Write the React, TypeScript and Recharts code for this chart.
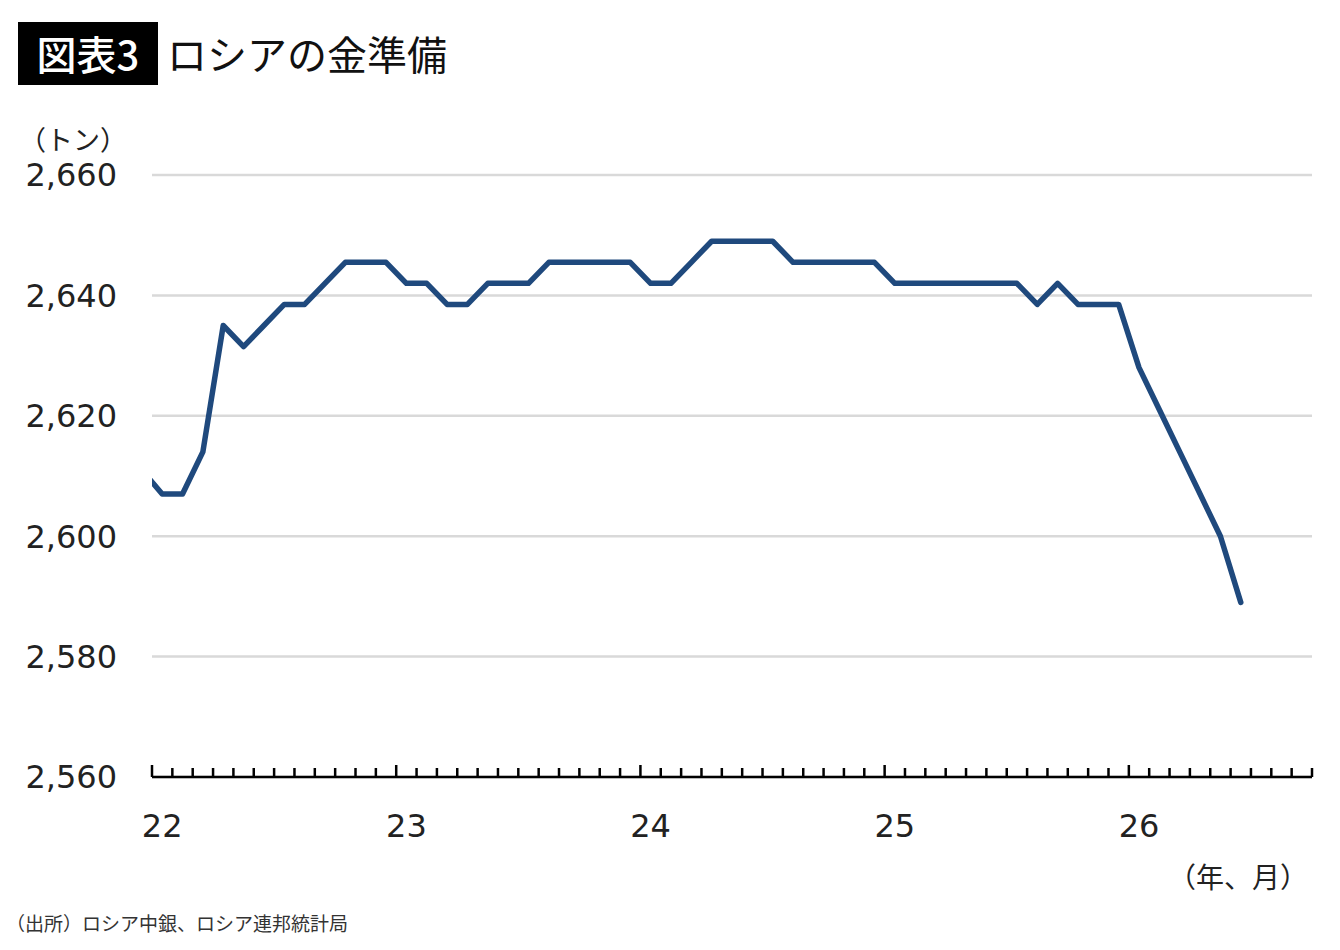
import React from 'react';
import { LineChart, Line, XAxis, YAxis, CartesianGrid } from 'recharts';

// Monthly gold reserves in tonnes, starting one month before the first year label
const reserves = [
  2611, 2607, 2607, 2614, 2635, 2631.5, 2635, 2638.5, 2638.5, 2642, 2645.5, 2645.5, 2645.5,
  2642, 2642, 2638.5, 2638.5, 2642, 2642, 2642, 2645.5, 2645.5, 2645.5, 2645.5, 2645.5,
  2642, 2642, 2645.5, 2649, 2649, 2649, 2649, 2645.5, 2645.5, 2645.5, 2645.5, 2645.5,
  2642, 2642, 2642, 2642, 2642, 2642, 2642, 2638.5, 2642, 2638.5, 2638.5, 2638.5,
  2628, 2621, 2614, 2607, 2600, 2589,
];

const yearLabels = ['22', '23', '24', '25', '26'];
const yTicks = [2560, 2580, 2600, 2620, 2640, 2660];
const monthCount = 57; // months shown on the axis

// each month sits in the middle of its tick interval
const data = reserves.map((v, i) => ({ t: i - 0.5, value: v }));

const monthTicks = Array.from({ length: monthCount + 1 }, (_, i) => i);
const labelTicks = yearLabels.map((_, i) => i * 12 + 0.5);
const xTicks = [...monthTicks, ...labelTicks].sort((a, b) => a - b);

const NUM_FONT = '"DejaVu Sans", "Noto Sans CJK JP", sans-serif';
const JP_FONT = '"Noto Sans CJK JP", sans-serif';

const XTick = (props: any) => {
  const { x, y, payload } = props;
  const v = payload.value as number;
  if (Number.isInteger(v)) {
    const len = v % 12 === 0 ? 12 : 9;
    return <line x1={x} x2={x} y1={y} y2={y - len} stroke="#000" strokeWidth={2.5} />;
  }
  const label = yearLabels[Math.floor(v / 12)];
  return (
    <text x={x} y={y + 49} textAnchor="middle" dominantBaseline="central" fontSize={32} fill="#222" fontFamily={NUM_FONT}>
      {label}
    </text>
  );
};

const App: React.FC = () => {
  return (
    <div style={{ position: 'absolute', left: 0, top: 0, width: 1340, height: 950, background: '#fff' }}>
      {/* title */}
      <div
        style={{
          position: 'absolute', left: 18, top: 22, width: 140, height: 63, background: '#000', color: '#fff',
          fontFamily: JP_FONT, fontSize: 40, lineHeight: '63px', textAlign: 'center', fontWeight: 500,
        }}
      >
        図表3
      </div>
      <div
        style={{
          position: 'absolute', left: 167, top: 22, height: 63, color: '#111',
          fontFamily: JP_FONT, fontSize: 40, lineHeight: '63px', fontWeight: 400,
        }}
      >
        ロシアの金準備
      </div>

      <LineChart
        width={1340}
        height={950}
        data={data}
        margin={{ top: 175, right: 28, bottom: 113, left: 0 }}
        style={{ position: 'absolute', left: 0, top: 0 }}
      >
        <CartesianGrid vertical={false} stroke="#d9d9d9" strokeWidth={2.5} />
        <XAxis
          dataKey="t"
          type="number"
          domain={[0, monthCount]}
          allowDataOverflow
          ticks={xTicks}
          interval={0}
          height={60}
          tickSize={0}
          tickMargin={0}
          tickLine={false}
          axisLine={{ stroke: '#000', strokeWidth: 2.5 }}
          tick={<XTick />}
        />
        <YAxis
          type="number"
          domain={[2560, 2660]}
          ticks={yTicks}
          width={152}
          axisLine={false}
          tickLine={false}
          tickSize={0}
          tickMargin={35}
          tickFormatter={(v: number) => v.toLocaleString('en-US')}
          tick={{ fontSize: 32, fill: '#222', fontFamily: NUM_FONT }}
        />
        <Line
          type="linear"
          dataKey="value"
          stroke="#1f497d"
          strokeWidth={5.5}
          strokeLinejoin="round"
          strokeLinecap="round"
          dot={false}
          activeDot={false}
          isAnimationActive={false}
        />
      </LineChart>

      {/* unit labels and source */}
      <div style={{ position: 'absolute', right: 1340 - 127, top: 125, fontFamily: JP_FONT, fontSize: 27, lineHeight: '27px', color: '#222', whiteSpace: 'nowrap' }}>
        （トン）
      </div>
      <div style={{ position: 'absolute', right: 1340 - 1308, top: 856, fontFamily: JP_FONT, fontSize: 28, color: '#222', whiteSpace: 'nowrap' }}>
        （年、月）
      </div>
      <div style={{ position: 'absolute', left: 6, top: 909, fontFamily: JP_FONT, fontSize: 19, color: '#333', whiteSpace: 'nowrap' }}>
        （出所）ロシア中銀、ロシア連邦統計局
      </div>
    </div>
  );
};

export default App;
